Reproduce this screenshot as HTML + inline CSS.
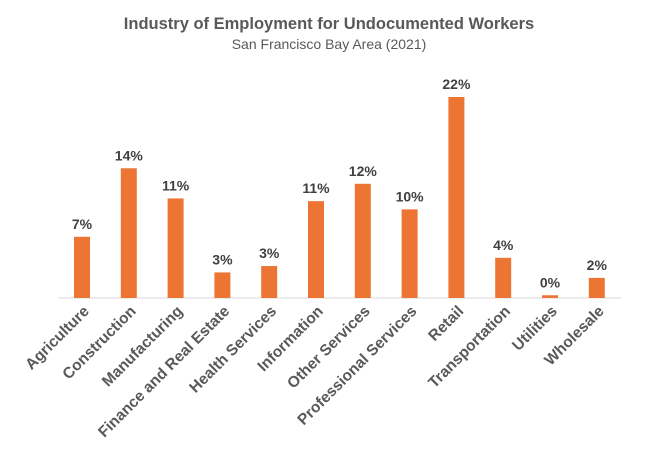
<!DOCTYPE html>
<html><head><meta charset="utf-8"><style>
body{margin:0;background:#fff;}
svg{font-family:"Liberation Sans",sans-serif;}
</style></head><body>
<svg id="chart" width="659" height="444">
<text x="329" y="29" text-anchor="middle" font-size="16.5" font-weight="bold" fill="#595959">Industry of Employment for Undocumented Workers</text>
<text x="329" y="49" text-anchor="middle" font-size="14" fill="#595959">San Francisco Bay Area (2021)</text>
<line x1="58" y1="298" x2="621" y2="298" stroke="#d9d9d9" stroke-width="1"/>
<g id="bars"></g>
</svg>
<script>
const categories=["Agriculture","Construction","Manufacturing","Finance and Real Estate","Health Services","Information","Other Services","Professional Services","Retail","Transportation","Utilities","Wholesale"];
const values=[6.7,14.2,10.9,2.8,3.5,10.6,12.5,9.7,22,4.4,0.3,2.2];
const labels=["7%","14%","11%","3%","3%","11%","12%","10%","22%","4%","0%","2%"];
const base=298,scale=201/22,x0=82,step=46.8,bw=16;
function xPos(i){return x0+i*step;}
function yPos(v){return base-v*scale;}
const g=document.getElementById('bars');
const ns="http://www.w3.org/2000/svg";
categories.forEach((c,i)=>{
 const cx=xPos(i),y=yPos(values[i]);
 const r=document.createElementNS(ns,'rect');
 r.setAttribute('x',cx-bw/2);r.setAttribute('y',y);r.setAttribute('width',bw);r.setAttribute('height',base-y);r.setAttribute('fill','#ed7534');
 
 
 g.appendChild(r);
 const t=document.createElementNS(ns,'text');
 t.setAttribute('x',cx);t.setAttribute('y',y-8);t.setAttribute('text-anchor','middle');t.setAttribute('font-size','14');t.setAttribute('font-weight','bold');t.setAttribute('fill','#404040');
 t.textContent=labels[i];
 
 
 g.appendChild(t);
 const l=document.createElementNS(ns,'text');
 l.setAttribute('transform','translate('+(cx+8)+',312) rotate(-45)');l.setAttribute('text-anchor','end');l.setAttribute('font-size','15.5');l.setAttribute('font-weight','bold');l.setAttribute('fill','#595959');
 l.textContent=c;
 
 
 g.appendChild(l);
});
</script>
</body></html>
